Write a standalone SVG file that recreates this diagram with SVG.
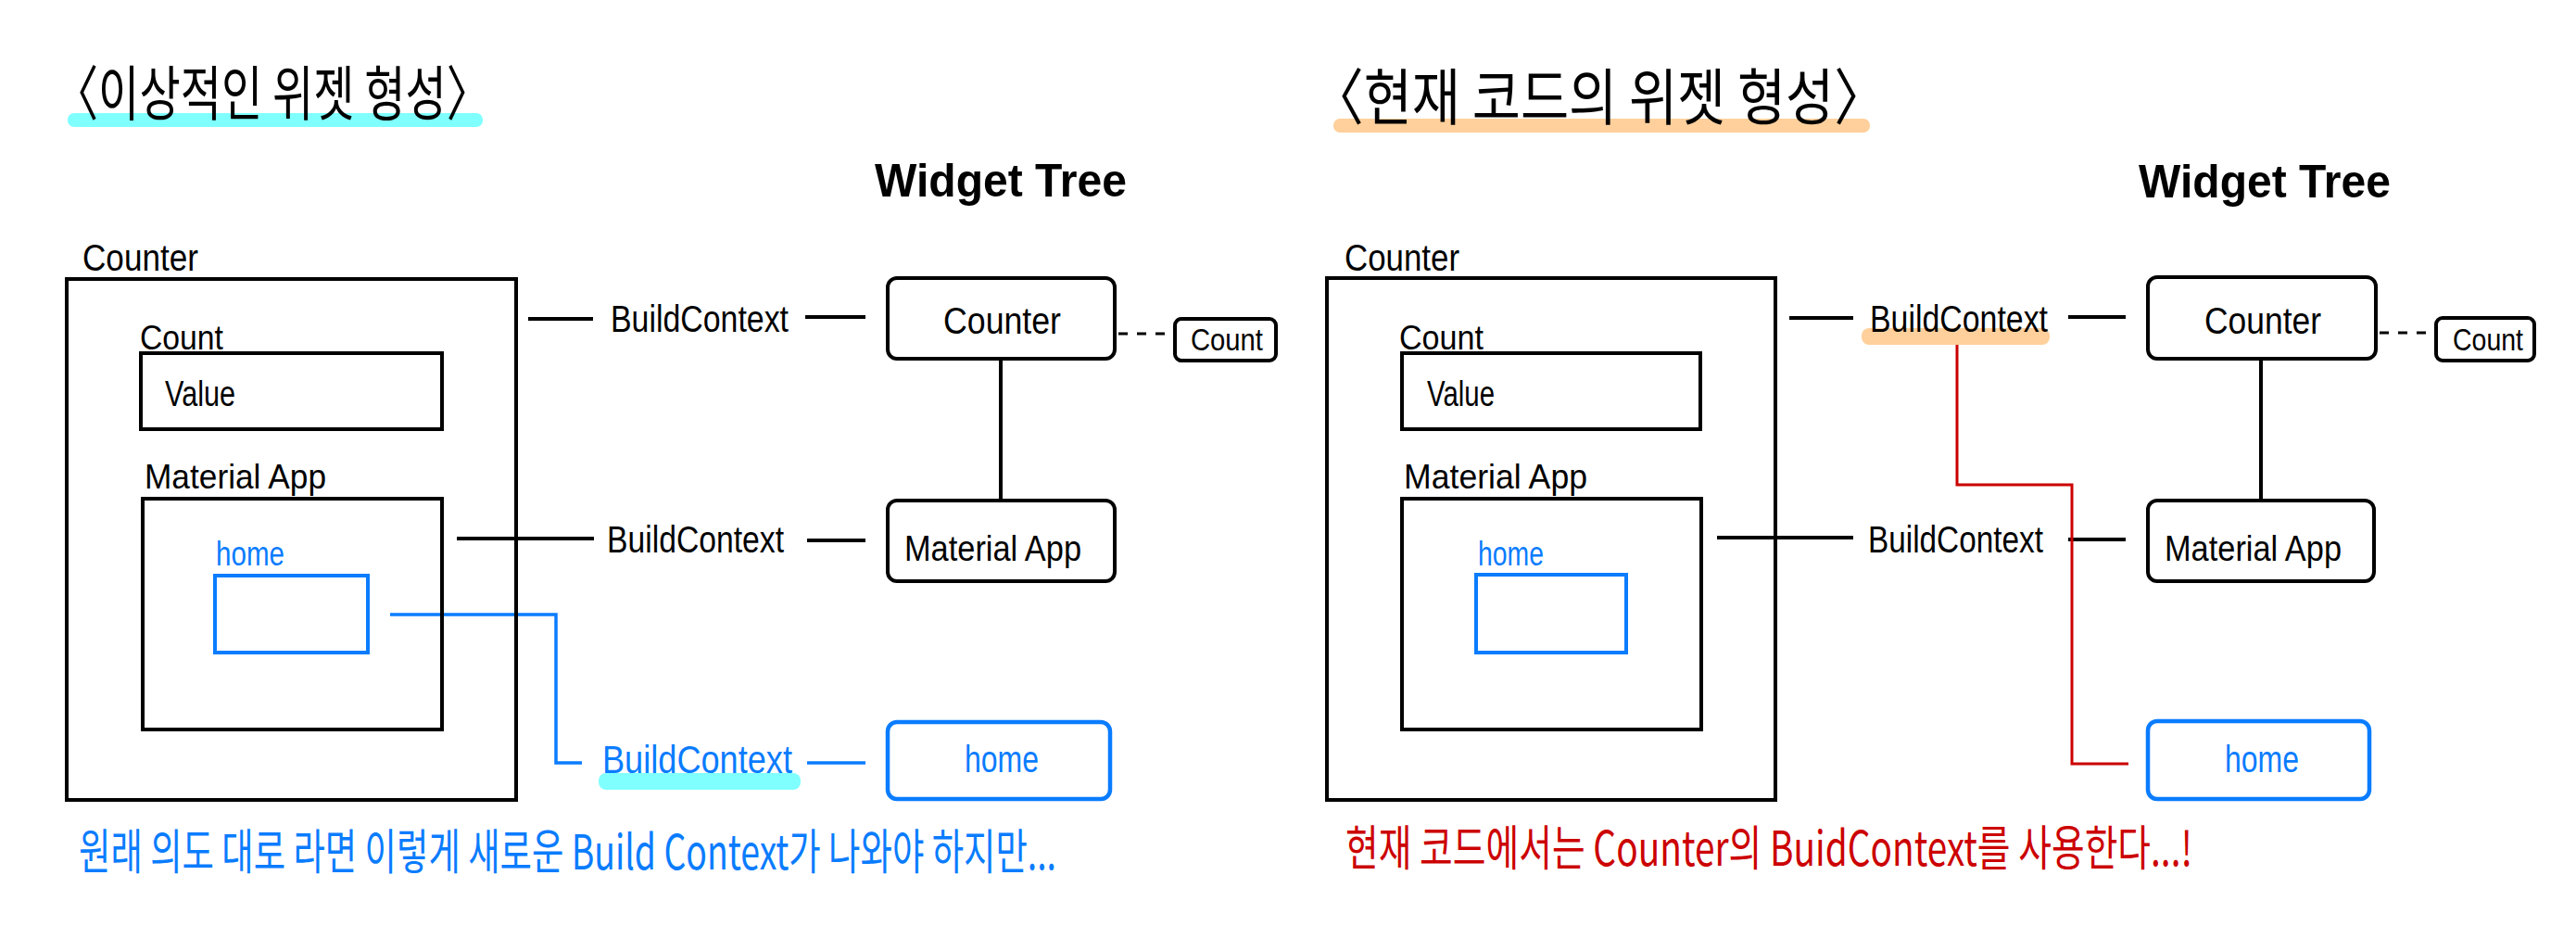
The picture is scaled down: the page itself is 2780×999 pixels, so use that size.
<svg xmlns="http://www.w3.org/2000/svg" width="2780" height="999" viewBox="0 0 2780 999">
<style>
.bg{fill:#ffffff}
.box{fill:none;stroke:#000;stroke-width:4}
.bbox{fill:none;stroke:#0A7CFF;stroke-width:4}
.node{fill:#fff;stroke:#000;stroke-width:4}
.bnode{fill:#fff;stroke:#0A7CFF;stroke-width:4.5}
.t{font-family:"Liberation Sans Narrow","Liberation Sans",sans-serif;fill:#000}
.kt{font-family:"Noto Sans CJK KR",sans-serif}
.blue{fill:#0A7CFF}
.red{fill:#CC0000}
.ln{stroke:#000;stroke-width:4;fill:none}
.bln{stroke:#0A7CFF;stroke-width:3.5;fill:none}
.rln{stroke:#CC0000;stroke-width:3;fill:none}
.dash{stroke:#000;stroke-width:3;fill:none;stroke-dasharray:10 10}
.hc{fill:#80FFFF}
.ho{fill:#FFD09C}
</style>
<rect class="bg" x="0" y="0" width="2780" height="999"/>

<!-- highlights -->
<g id="highlights">
<rect class="hc" x="73" y="122" width="448" height="15" rx="7"/>
<rect class="hc" x="646" y="834" width="218" height="18" rx="8"/>
<rect class="ho" x="1439" y="128" width="579" height="15" rx="7"/>
<rect class="ho" x="2009" y="354" width="203" height="18" rx="8"/>
</g>

<!-- titles -->
<g id="title-left">
<text class="kt" x="58" y="124" font-size="64" textLength="472" lengthAdjust="spacingAndGlyphs">〈이상적인 위젯 형성〉</text>
</g>
<g id="title-right">
<text class="kt" x="1415" y="129" font-size="66" textLength="621" lengthAdjust="spacingAndGlyphs">〈현재 코드의 위젯 형성〉</text>
</g>
<g id="wt-left"><text class="t" x="944" y="212" font-size="50" font-weight="bold" textLength="272" lengthAdjust="spacingAndGlyphs">Widget Tree</text></g>
<g id="wt-right"><text class="t" x="2308" y="213" font-size="50" font-weight="bold" textLength="272" lengthAdjust="spacingAndGlyphs">Widget Tree</text></g>

<!-- connectors -->
<g id="connectors">
<line class="ln" x1="570" y1="344" x2="640" y2="344"/>
<line class="ln" x1="869" y1="342" x2="934" y2="342"/>
<line class="ln" x1="493" y1="581" x2="641" y2="581"/>
<line class="ln" x1="871" y1="583" x2="934" y2="583"/>
<polyline class="bln" points="421,663 600,663 600,823 628,823"/>
<line class="bln" x1="871" y1="823" x2="934" y2="823"/>
<line class="ln" x1="1080" y1="387" x2="1080" y2="539"/>
<line class="dash" x1="1207" y1="360" x2="1265" y2="360"/>

<line class="ln" x1="1931" y1="343" x2="2000" y2="343"/>
<line class="ln" x1="2232" y1="342" x2="2294" y2="342"/>
<line class="ln" x1="1853" y1="580" x2="2000" y2="580"/>
<line class="ln" x1="2232" y1="582" x2="2294" y2="582"/>
<line class="ln" x1="2440" y1="387" x2="2440" y2="539"/>
<line class="dash" x1="2568" y1="359" x2="2627" y2="359"/>
<polyline class="rln" points="2112,372 2112,523 2236,523 2236,824 2297,824"/>
</g>

<!-- connector labels -->
<g id="ctx-left-1"><text class="t" x="659" y="358" font-size="40" textLength="192" lengthAdjust="spacingAndGlyphs">BuildContext</text></g>
<g id="ctx-left-2"><text class="t" x="655" y="596" font-size="40" textLength="191" lengthAdjust="spacingAndGlyphs">BuildContext</text></g>
<g id="ctx-left-3"><text class="t blue" x="650" y="834" font-size="42" textLength="205" lengthAdjust="spacingAndGlyphs">BuildContext</text></g>
<g id="ctx-right-1"><text class="t" x="2018" y="358" font-size="40" textLength="192" lengthAdjust="spacingAndGlyphs">BuildContext</text></g>
<g id="ctx-right-2"><text class="t" x="2016" y="596" font-size="40" textLength="189" lengthAdjust="spacingAndGlyphs">BuildContext</text></g>

<!-- LEFT: nested widgets -->
<g id="counter-left">
<text class="t" x="89" y="292" font-size="40" textLength="125" lengthAdjust="spacingAndGlyphs">Counter</text>
<rect class="box" x="72" y="301" width="485" height="562"/>
</g>
<g id="count-left">
<text class="t" x="151" y="377" font-size="36" textLength="90" lengthAdjust="spacingAndGlyphs">Count</text>
<rect class="box" x="152" y="381" width="325" height="82"/>
<text class="t" x="178" y="438" font-size="38" textLength="76" lengthAdjust="spacingAndGlyphs">Value</text>
</g>
<g id="material-left">
<text class="t" x="156" y="527" font-size="36" textLength="196" lengthAdjust="spacingAndGlyphs">Material App</text>
<rect class="box" x="154" y="538" width="323" height="249"/>
</g>
<g id="home-left">
<text class="t blue" x="233" y="610" font-size="36" textLength="74" lengthAdjust="spacingAndGlyphs">home</text>
<rect class="bbox" x="232" y="621" width="165" height="83"/>
</g>

<!-- LEFT: widget tree -->
<g id="tree-counter-left">
<rect class="node" x="958" y="300" width="245" height="87" rx="10"/>
<text class="t" x="1018" y="360" font-size="40" textLength="127" lengthAdjust="spacingAndGlyphs">Counter</text>
</g>
<g id="tree-count-left">
<rect class="node" x="1268" y="344" width="109" height="45" rx="7" stroke-width="3.5"/>
<text class="t" x="1285" y="378" font-size="34" textLength="78" lengthAdjust="spacingAndGlyphs">Count</text>
</g>
<g id="tree-material-left">
<rect class="node" x="958" y="540" width="245" height="87" rx="10"/>
<text class="t" x="976" y="605" font-size="38" textLength="191" lengthAdjust="spacingAndGlyphs">Material App</text>
</g>
<g id="tree-home-left">
<rect class="bnode" x="958" y="779" width="240" height="83" rx="10"/>
<text class="t blue" x="1041" y="833" font-size="40" textLength="80" lengthAdjust="spacingAndGlyphs">home</text>
</g>

<!-- RIGHT: nested widgets -->
<g id="counter-right">
<text class="t" x="1451" y="292" font-size="40" textLength="124" lengthAdjust="spacingAndGlyphs">Counter</text>
<rect class="box" x="1432" y="300" width="484" height="563"/>
</g>
<g id="count-right">
<text class="t" x="1510" y="377" font-size="36" textLength="91" lengthAdjust="spacingAndGlyphs">Count</text>
<rect class="box" x="1513" y="381" width="322" height="82"/>
<text class="t" x="1540" y="438" font-size="38" textLength="73" lengthAdjust="spacingAndGlyphs">Value</text>
</g>
<g id="material-right">
<text class="t" x="1515" y="527" font-size="36" textLength="198" lengthAdjust="spacingAndGlyphs">Material App</text>
<rect class="box" x="1513" y="538" width="323" height="249"/>
</g>
<g id="home-right">
<text class="t blue" x="1595" y="610" font-size="36" textLength="71" lengthAdjust="spacingAndGlyphs">home</text>
<rect class="bbox" x="1593" y="620" width="162" height="84"/>
</g>

<!-- RIGHT: widget tree -->
<g id="tree-counter-right">
<rect class="node" x="2318" y="299" width="246" height="88" rx="10"/>
<text class="t" x="2379" y="360" font-size="40" textLength="126" lengthAdjust="spacingAndGlyphs">Counter</text>
</g>
<g id="tree-count-right">
<rect class="node" x="2629" y="343" width="106" height="46" rx="7" stroke-width="3.5"/>
<text class="t" x="2647" y="378" font-size="34" textLength="76" lengthAdjust="spacingAndGlyphs">Count</text>
</g>
<g id="tree-material-right">
<rect class="node" x="2318" y="540" width="244" height="87" rx="10"/>
<text class="t" x="2336" y="605" font-size="38" textLength="191" lengthAdjust="spacingAndGlyphs">Material App</text>
</g>
<g id="tree-home-right">
<rect class="bnode" x="2318" y="778" width="239" height="84" rx="10"/>
<text class="t blue" x="2401" y="833" font-size="40" textLength="80" lengthAdjust="spacingAndGlyphs">home</text>
</g>

<!-- captions -->
<g id="caption-left">
<text class="kt blue" x="85" y="938" font-size="52" textLength="1055" lengthAdjust="spacingAndGlyphs">원래 의도 대로 라면 이렇게 새로운 Build Context가 나와야 하지만...</text>
</g>
<g id="caption-right">
<text class="kt red" x="1452" y="934" font-size="52" textLength="914" lengthAdjust="spacingAndGlyphs">현재 코드에서는 Counter의 BuidContext를 사용한다...!</text>
</g>
</svg>
